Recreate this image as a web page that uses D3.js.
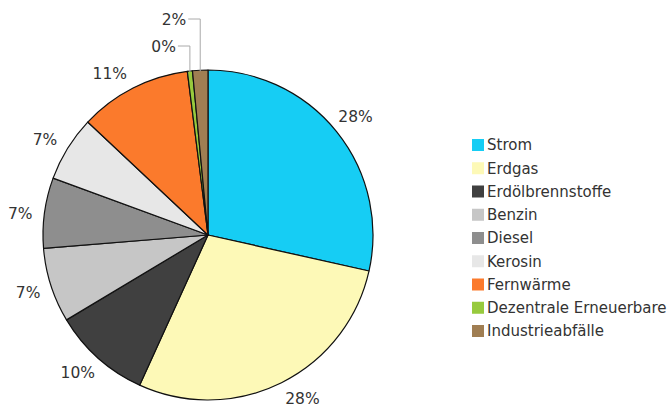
<!DOCTYPE html>
<meta charset="utf-8">
<head>
  <style>
    body { margin: 0; background: #fff; }
    text { font-family: "DejaVu Sans", Verdana, sans-serif; fill: #333; }
  </style>
</head>
<body>
<svg id="chart" width="672" height="409"></svg>
<script src="https://d3js.org/d3.v7.min.js"></script>
<script>

var categories = ["Strom", "Erdgas", "Erdölbrennstoffe", "Benzin", "Diesel",
                  "Kerosin", "Fernwärme", "Dezentrale Erneuerbare", "Industrieabfälle"];
var shares = [28.5, 28.3, 9.6, 7.3, 6.9, 6.4, 11.0, 0.5, 1.5];
var labels = ["28%", "28%", "10%", "7%", "7%", "7%", "11%", "0%", "2%"];
var colors = ["#16cdf4", "#fdf9b7", "#404040", "#c6c6c6", "#8e8e8e",
              "#e7e7e7", "#fb7a2c", "#97ca3d", "#a07e52"];

var svg = d3.select("#chart");
var cx = 208, cy = 235, radius = 165;

var color = d3.scaleOrdinal().domain(categories).range(colors);

var pie = d3.pie().sort(null).value(function(d) { return d.value; });
var arc = d3.arc().innerRadius(0).outerRadius(radius);
var labelArc = d3.arc().innerRadius(189).outerRadius(189);

var data = categories.map(function(c, i) { return { name: c, value: shares[i], label: labels[i] }; });
var arcs = pie(data);

var g = svg.append("g").attr("transform", "translate(" + cx + "," + cy + ")");

g.selectAll("path.slice")
  .data(arcs)
  .enter().append("path")
    .attr("class", "slice")
    .attr("d", arc)
    .attr("fill", function(d) { return color(d.data.name); })
    .attr("stroke", "#111")
    .attr("stroke-width", 1.2)
    .attr("stroke-linejoin", "round");

// labels for the big slices sit on a ring outside the pie,
// a few are pushed along the ring like the original layout does
var nudge = { "Erdgas": -3.5, "Fernwärme": -4.3, "Erdölbrennstoffe": 1.8, "Diesel": -1.1, "Kerosin": -1.3 };
g.selectAll("text.lbl")
  .data(arcs.filter(function(d) { return d.data.value > 2; }))
  .enter().append("text")
    .attr("class", "lbl")
    .attr("transform", function(d) {
      var s = (nudge[d.data.name] || 0) * Math.PI / 180;
      var c = labelArc.centroid({ startAngle: d.startAngle + s, endAngle: d.endAngle + s });
      return "translate(" + c + ")";
    })
    .attr("text-anchor", "middle")
    .attr("dy", "0.36em")
    .style("font-size", "15.5px")
    .text(function(d) { return d.data.label; });

// the two tiny slices get labels with leader lines above the pie
var small = arcs.filter(function(d) { return d.data.value <= 2; });
var leaderY = { "Dezentrale Erneuerbare": 46, "Industrieabfälle": 19 };
small.forEach(function(d) {
  var a = (d.startAngle + d.endAngle) / 2;
  var px = radius * Math.sin(a), py = -radius * Math.cos(a);
  var ly = leaderY[d.data.name] - cy;
  g.append("path")
    .attr("d", "M" + (px - 12) + "," + ly + "H" + px + "V" + (py + 1))
    .attr("fill", "none")
    .attr("stroke", "#aaa")
    .attr("stroke-width", 1);
  g.append("text")
    .attr("x", px - 14)
    .attr("y", ly)
    .attr("dy", "0.36em")
    .attr("text-anchor", "end")
    .style("font-size", "15.5px")
    .text(d.data.label);
});

// legend
var legend = svg.append("g").attr("transform", "translate(472,145)");
var row = legend.selectAll("g")
  .data(categories)
  .enter().append("g")
    .attr("transform", function(d, i) { return "translate(0," + (i * 23.25) + ")"; });
row.append("rect")
  .attr("x", 0).attr("y", -6)
  .attr("width", 12).attr("height", 12)
  .attr("fill", function(d) { return color(d); });
row.append("text")
  .attr("x", 15)
  .attr("dy", "0.36em")
  .style("font-size", "15px")
  .text(function(d) { return d; });

</script>
</body>
